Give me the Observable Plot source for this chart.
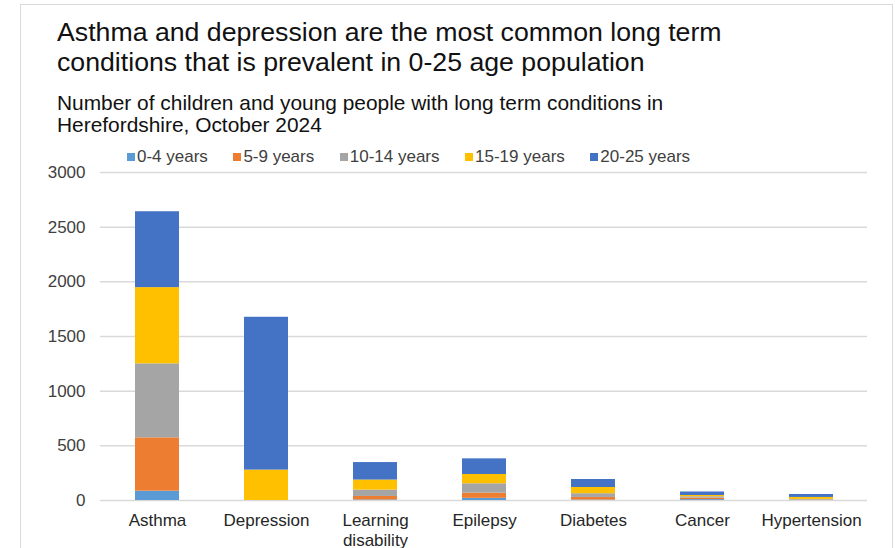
<!DOCTYPE html>
<html>
<head>
<meta charset="utf-8">
<script src="https://cdn.jsdelivr.net/npm/d3@7"></script>
<script src="https://cdn.jsdelivr.net/npm/@observablehq/plot@0.6"></script>
<style>
  html, body { margin: 0; padding: 0; background: #fff; }
  body { width: 895px; height: 548px; overflow: hidden; font-family: "Liberation Sans", Arial, sans-serif; }
  #wrap { position: relative; width: 895px; height: 548px; }
  #frame { position: absolute; left: 20px; top: 4px; width: 873px; height: 560px; border: 1px solid #d9d9d9; box-sizing: border-box; }
  #title { position: absolute; left: 57px; top: 17px; font-size: 26.7px; line-height: 30px; color: #111; white-space: nowrap; }
  #subtitle { position: absolute; left: 57px; top: 92px; font-size: 20.9px; line-height: 22px; color: #111; white-space: nowrap; }
  #legend { position: absolute; left: 127px; top: 147px; font-size: 17px; line-height: 20px; color: #404040; display: flex; gap: 25.5px; white-space: nowrap; }
  #legend span.item { display: flex; align-items: center; }
  #legend i { display: inline-block; width: 8px; height: 8px; margin-right: 2px; }
  #chart { position: absolute; left: 0; top: 0; }
</style>
</head>
<body>
<div id="wrap">
  <div id="frame"></div>
  <div id="chart"></div>
  <div id="title">Asthma and depression are the most common long term<br>conditions that is prevalent in 0-25 age population</div>
  <div id="subtitle">Number of children and young people with long term conditions in<br>Herefordshire, October 2024</div>
  <div id="legend"></div>
</div>
<script>
// Long term conditions, counts by age group
const conditions = ["Asthma", "Depression", "Learning disability", "Epilepsy", "Diabetes", "Cancer", "Hypertension"];
const ageGroups = ["0-4 years", "5-9 years", "10-14 years", "15-19 years", "20-25 years"];
const age0to4   = [85,   0,   5,  20,  4,  8,  2];
const age5to9   = [488,  0,  32,  47, 24, 14,  3];
const age10to14 = [677,  0,  58,  86, 34, 12,  5];
const age15to19 = [697, 278, 92,  85, 57, 12, 18];
const age20to25 = [694, 1398, 160, 143, 73, 32, 27];
const yTicks = [0, 500, 1000, 1500, 2000, 2500, 3000];
const groupColors = ["#5B9BD5", "#ED7D31", "#A5A5A5", "#FFC000", "#4472C4"];

const series = [age0to4, age5to9, age10to14, age15to19, age20to25];
const rows = [];
conditions.forEach((c, i) => {
  ageGroups.forEach((g, j) => rows.push({condition: c, group: g, value: series[j][i]}));
});

const chart = Plot.plot({
  width: 895,
  height: 548,
  marginLeft: 100,
  marginRight: 28,
  marginTop: 172,
  marginBottom: 48,
  style: {background: "transparent", fontFamily: "Liberation Sans, Arial, sans-serif", fontSize: "17px"},
  x: {domain: conditions, paddingInner: 0.6, paddingOuter: 0.3, label: null},
  y: {domain: [0, 3000], label: null},
  color: {domain: ageGroups, range: groupColors},
  marks: [
    Plot.ruleY(yTicks, {stroke: "#d9d9d9", strokeWidth: 1.5}),
    Plot.barY(rows, Plot.stackY({x: "condition", y: "value", fill: "group", order: ageGroups})),
    Plot.axisY({ticks: yTicks, tickSize: 0, tickPadding: 15, fill: "#404040", fontSize: 17, label: null,
      tickFormat: d => String(d)}),
    Plot.axisX({tickSize: 0, tickPadding: 11, fill: "#262626", fontSize: 17, lineHeight: 1.2, label: null,
      tickFormat: d => d === "Learning disability" ? "Learning\ndisability" : d})
  ]
});
document.getElementById("chart").appendChild(chart);

const legend = document.getElementById("legend");
ageGroups.forEach((g, j) => {
  const item = document.createElement("span");
  item.className = "item";
  const sw = document.createElement("i");
  sw.style.background = groupColors[j];
  item.appendChild(sw);
  item.appendChild(document.createTextNode(g));
  legend.appendChild(item);
});
</script>
</body>
</html>
